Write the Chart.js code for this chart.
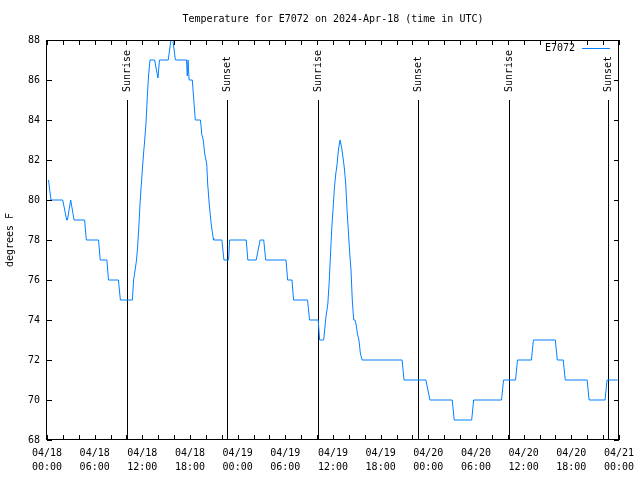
<!DOCTYPE html>
<html>
<head>
<meta charset="utf-8">
<title>Temperature for E7072</title>
<script src="https://cdn.jsdelivr.net/npm/chart.js@4.4.1/dist/chart.umd.min.js"></script>
<style>
  html, body { margin: 0; padding: 0; background: #fff; }
  #wrap { width: 640px; height: 480px; }
</style>
</head>
<body>
<div id="wrap"><canvas id="tempChart" width="640" height="480"></canvas></div>
<script>
// readings: hours since 04/18 00:00 UTC and temperature (F)
const hours = [0.19, 0.50, 1.98, 2.48, 2.57, 2.98, 3.41, 4.74, 4.95, 6.49, 6.70, 7.54, 7.74, 8.99, 9.24,
    10.75, 10.90, 11.09, 11.27, 11.40, 11.55, 11.71, 11.86, 12.00, 12.15, 12.30, 12.46, 12.63, 12.78, 12.97,
    13.55, 13.78, 13.97, 14.16, 15.26, 15.60, 15.85, 16.16, 17.56, 17.66, 17.76, 17.89, 18.29, 18.48, 18.67,
    19.32, 19.48, 19.67, 19.86, 20.11, 20.23, 20.42, 20.67, 20.92, 20.98, 22.02, 22.27, 22.86, 22.99,
    25.08, 25.28, 26.33, 26.83, 27.28, 27.53, 30.09, 30.29, 30.84, 31.04, 32.80, 33.05, 34.14, 34.32, 34.83,
    35.10, 35.35, 35.51, 35.68, 35.85, 36.02, 36.18, 36.35, 36.52, 36.68, 36.89,
    37.10, 37.27, 37.43, 37.61, 37.77, 37.93, 38.11, 38.27, 38.43, 38.61, 38.77, 38.93, 39.08, 39.27, 39.46, 39.68,
    44.70, 44.95, 47.70, 48.20, 51.01, 51.26, 53.46, 53.71, 57.22, 57.47, 58.98, 59.23, 60.98, 61.23,
    63.99, 64.24, 64.99, 65.24, 68.00, 68.24, 70.25, 70.50, 71.84];
const temps = [81, 80, 80, 79, 79, 80, 79, 79, 78, 78, 77, 77, 76, 76, 75,
    75, 76, 76.5, 77, 77.6, 78.6, 79.8, 80.7, 81.5, 82.3, 83, 83.8, 85.2, 86.2, 87,
    87, 86.5, 86.1, 87, 87, 88, 88, 87, 87, 86.2, 87, 86, 86, 85, 84,
    84, 83.3, 83, 82.3, 81.8, 80.8, 79.8, 78.8, 78.1, 78, 78, 77, 77, 78,
    78, 77, 77, 78, 78, 77, 77, 76, 76, 75, 75, 74, 74, 73, 73,
    74.1, 74.8, 75.8, 77.2, 78.6, 79.6, 80.6, 81.3, 81.8, 82.5, 83,
    82.6, 82.1, 81.6, 80.8, 79.5, 78.5, 77.3, 76.5, 75, 74, 74, 73.75, 73.3, 73, 72.3, 72,
    72, 71, 71, 70, 70, 69, 69, 70, 70, 71, 71, 72, 72, 73,
    73, 72, 72, 71, 71, 70, 70, 71, 71];

const dayLabels = ['04/18', '04/18', '04/18', '04/18', '04/19', '04/19', '04/19', '04/19',
    '04/20', '04/20', '04/20', '04/20', '04/21'];
const timeLabels = ['00:00', '06:00', '12:00', '18:00', '00:00', '06:00', '12:00', '18:00',
    '00:00', '06:00', '12:00', '18:00', '00:00'];

const sunHours = [10.08, 22.65, 34.17, 46.70, 58.10, 70.62];
const sunLabels = ['Sunrise', 'Sunset', 'Sunrise', 'Sunset', 'Sunrise', 'Sunset'];

const chartTitle = 'Temperature for E7072 on 2024-Apr-18 (time in UTC)';
const stationName = 'E7072';
const lineColor = '#0080ff';
const monoFont = { family: '"DejaVu Sans Mono", "Liberation Mono", monospace', size: 10, weight: 'normal' };
const fontStr = '10px "DejaVu Sans Mono", "Liberation Mono", monospace';

const gnuplotFrame = {
    id: 'gnuplotFrame',
    beforeDatasetsDraw(chart) {
        const { ctx, chartArea } = chart;
        const xs = chart.scales.x;
        ctx.save();
        ctx.strokeStyle = '#000';
        ctx.lineWidth = 1;
        ctx.fillStyle = '#000';
        ctx.font = fontStr;
        ctx.textBaseline = 'middle';
        ctx.textAlign = 'left';
        sunHours.forEach((h, i) => {
            const x = Math.round(xs.getPixelForValue(h)) + 0.5;
            ctx.beginPath();
            ctx.moveTo(x, 100);
            ctx.lineTo(x, chartArea.bottom);
            ctx.stroke();
            ctx.save();
            ctx.translate(x, 92);
            ctx.rotate(-Math.PI / 2);
            ctx.fillText(sunLabels[i], 0, 0);
            ctx.restore();
        });
        ctx.restore();
    },
    afterDraw(chart) {
        const { ctx, chartArea } = chart;
        const { left, right, top, bottom } = chartArea;
        const xs = chart.scales.x;
        const ys = chart.scales.y;
        const tick = 5;
        ctx.save();

        // title centred over the plot, like gnuplot does
        ctx.fillStyle = '#000';
        ctx.font = fontStr;
        ctx.textAlign = 'center';
        ctx.textBaseline = 'middle';
        ctx.fillText(chartTitle, (left + right) / 2, 19);

        ctx.strokeStyle = '#000';
        ctx.lineWidth = 1;
        ctx.beginPath();
        xs.ticks.forEach(t => {
            const x = Math.round(xs.getPixelForValue(t.value)) + 0.5;
            ctx.moveTo(x, bottom);
            ctx.lineTo(x, bottom - tick);
            ctx.moveTo(x, top);
            ctx.lineTo(x, top + tick);
        });
        ys.ticks.forEach(t => {
            const y = Math.round(ys.getPixelForValue(t.value)) + 0.5;
            ctx.moveTo(left, y);
            ctx.lineTo(left + tick, y);
            ctx.moveTo(right, y);
            ctx.lineTo(right - tick, y);
        });
        ctx.stroke();
        ctx.strokeRect(Math.round(left) - 0.5, Math.round(top) + 0.5,
            Math.round(right - left), Math.round(bottom - top) - 1);

        // key, top right inside the plot
        ctx.textAlign = 'right';
        ctx.fillText(stationName, 575, 48);
        ctx.strokeStyle = lineColor;
        ctx.beginPath();
        ctx.moveTo(582, 48.5);
        ctx.lineTo(610, 48.5);
        ctx.stroke();
        ctx.restore();
    }
};

new Chart(document.getElementById('tempChart'), {
    type: 'line',
    data: {
        datasets: [{
            label: stationName,
            data: hours.map((h, i) => ({ x: h, y: temps[i] })),
            borderColor: lineColor,
            borderWidth: 1,
            pointRadius: 0,
            tension: 0,
            fill: false
        }]
    },
    options: {
        responsive: false,
        animation: false,
        devicePixelRatio: 1,
        layout: { padding: { left: 0, right: 19, top: 40, bottom: 0 } },
        plugins: {
            legend: { display: false },
            tooltip: { enabled: false },
            title: { display: false }
        },
        scales: {
            x: {
                type: 'linear',
                min: 0,
                max: 72,
                afterFit: s => { s.height = 40; },
                grid: { display: false, drawTicks: false },
                border: { display: false },
                ticks: {
                    stepSize: 2,
                    autoSkip: false,
                    maxRotation: 0,
                    padding: 6,
                    color: '#000',
                    font: { ...monoFont, lineHeight: 1.4 },
                    callback: function (value) {
                        if (value % 6 !== 0) return '';
                        const i = value / 6;
                        return [dayLabels[i], timeLabels[i]];
                    }
                }
            },
            y: {
                min: 68,
                max: 88,
                afterFit: s => { s.width = 47; },
                grid: { display: false, drawTicks: false },
                border: { display: false },
                ticks: {
                    stepSize: 2,
                    padding: 7,
                    color: '#000',
                    font: monoFont
                },
                title: {
                    display: true,
                    text: 'degrees F',
                    color: '#000',
                    font: monoFont,
                    padding: { top: 4, bottom: 0 }
                }
            }
        }
    },
    plugins: [gnuplotFrame]
});
</script>
</body>
</html>
